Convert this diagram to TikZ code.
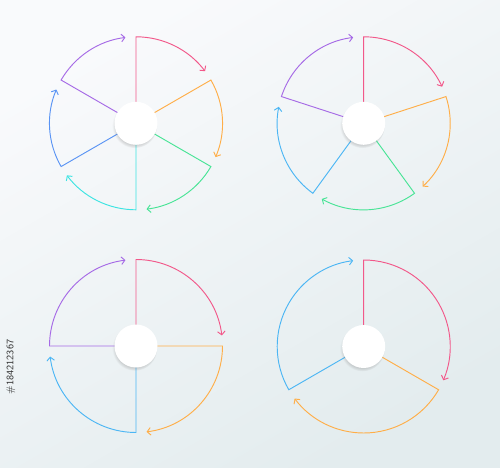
\documentclass[tikz,border=0pt]{standalone}
\usetikzlibrary{arrows.meta,shadows}
\definecolor{segred}{HTML}{F2588A}
\definecolor{segorange}{HTML}{FFAE48}
\definecolor{seggreen}{HTML}{48E496}
\definecolor{segcyan}{HTML}{3CE4E2}
\definecolor{segblue}{HTML}{5A94F4}
\definecolor{segsky}{HTML}{4CB6F4}
\definecolor{segpurple}{HTML}{A66AE6}
\definecolor{bgtop}{HTML}{F9FAFC}
\definecolor{bgbottom}{HTML}{E3ECEE}
\tikzset{
	seg/.style={line width=0.8pt,line join=miter,-{Straight Barb[length=3pt,width=6.5pt]}},
	hub/.style={circle,fill=white,inner sep=0pt,minimum size=1.29cm,
		circular drop shadow={shadow xshift=-1pt,shadow yshift=-1.8pt,shadow scale=1.05,opacity=0.3}}
}

\begin{document}
\begin{tikzpicture}[x=0.03cm,y=0.03cm]
			\shade[shading=axis,top color=bgtop,bottom color=bgbottom,shading angle=30] (0,0) rectangle (500,467);
			\coordinate (tl) at (136,343.7);
			\coordinate (tr) at (363.7,343.7);
			\coordinate (bl) at (136,121);
			\coordinate (br) at (363.7,120.5);
			\foreach \a/\c in {90/segred,30/segorange,-30/seggreen,-90/segcyan,-150/segblue,150/segpurple}
				\draw[seg,\c] (tl) -- ++(\a:86.5) arc[start angle=\a,end angle=\a-53,radius=86.5];
			\foreach \a/\c in {90/segred,18/segorange,-54/seggreen,-126/segsky,162/segpurple}
				\draw[seg,\c] (tr) -- ++(\a:86.5) arc[start angle=\a,end angle=\a-65,radius=86.5];
			\foreach \a/\c in {90/segred,0/segorange,-90/segsky,180/segpurple}
				\draw[seg,\c] (bl) -- ++(\a:86.5) arc[start angle=\a,end angle=\a-83,radius=86.5];
			\foreach \a/\c in {90/segred,-30/segorange,210/segsky}
				\draw[seg,\c] (br) -- ++(\a:86.5) arc[start angle=\a,end angle=\a-113,radius=86.5];
			\node[hub] (tlhub) at (tl) {};
			\node[hub] (trhub) at (tr) {};
			\node[hub] (blhub) at (bl) {};
			\node[hub] (brhub) at (br) {};
			\node[rotate=90,text=black!80,font=\sffamily\fontsize{8.5}{9}\selectfont] (stockid) at (11,100) {\#184212367};
		\end{tikzpicture}
\end{document}
